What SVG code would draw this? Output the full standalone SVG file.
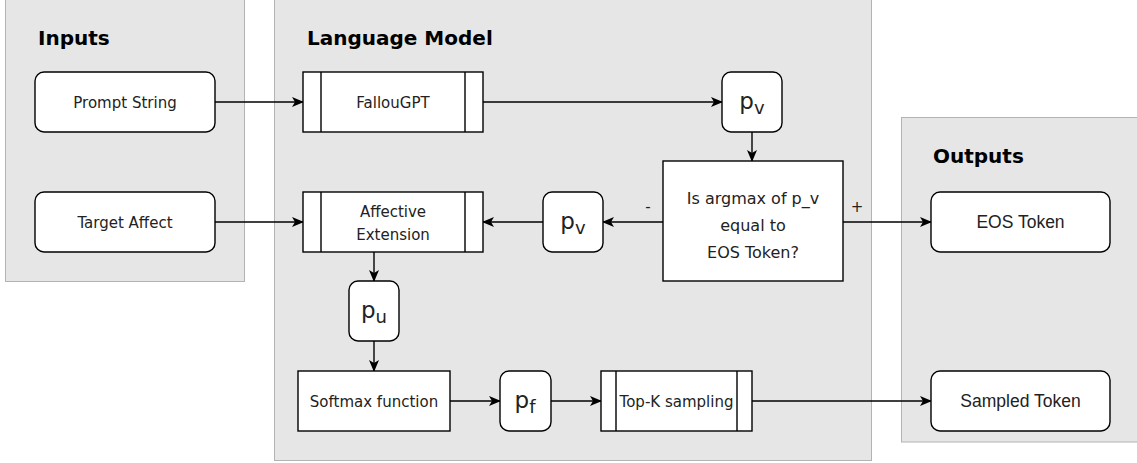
<svg xmlns="http://www.w3.org/2000/svg" width="1137" height="463" viewBox="0 0 1137 463">
<style>
.panel{fill:#e6e6e6;stroke:#b3b3b3;stroke-width:1}
.title{font-family:"DejaVu Sans",sans-serif;font-weight:bold;font-size:20px;fill:#000}
.box{fill:#fff;stroke:#000;stroke-width:1.4}
.t{font-family:"DejaVu Sans",sans-serif;font-size:15px;fill:#222;text-anchor:middle}
.td{font-family:"DejaVu Sans",sans-serif;font-size:16px;fill:#222;text-anchor:middle}
.ta{font-family:"Liberation Sans",Arial,sans-serif;font-size:17.5px;fill:#222;text-anchor:middle}
.p{font-family:"DejaVu Sans",sans-serif;font-size:23px;fill:#222;text-anchor:middle}
.c{fill:none;stroke:#000;stroke-width:1.4}
</style>
<defs>
<marker id="arr" viewBox="0 0 12 10" refX="11" refY="5" markerWidth="12" markerHeight="10" markerUnits="userSpaceOnUse" orient="auto">
<path d="M0,0 L12,5 L0,10 L3,5 z" fill="#000"/>
</marker>
</defs>
<g id="panel-inputs">
<rect class="panel" x="5.5" y="-2" width="239" height="283.5"/>
<text class="title" x="38" y="45">Inputs</text>
</g>
<g id="panel-lm">
<rect class="panel" x="274.5" y="-2" width="597" height="462.5"/>
<text class="title" x="307" y="45">Language Model</text>
</g>
<g id="panel-outputs">
<rect class="panel" x="901.5" y="117.5" width="240" height="324.5"/>
<text class="title" x="933" y="163">Outputs</text>
</g>
<g id="connectors">
<path class="c" d="M215,102 H303" marker-end="url(#arr)"/>
<path class="c" d="M483,102 H722" marker-end="url(#arr)"/>
<path class="c" d="M752,132 V161" marker-end="url(#arr)"/>
<path class="c" d="M215,222 H303" marker-end="url(#arr)"/>
<path class="c" d="M663,222 H603" marker-end="url(#arr)"/>
<path class="c" d="M543,222 H483" marker-end="url(#arr)"/>
<path class="c" d="M843,222 H931" marker-end="url(#arr)"/>
<path class="c" d="M374,252 V281" marker-end="url(#arr)"/>
<path class="c" d="M374,341 V371" marker-end="url(#arr)"/>
<path class="c" d="M450,401 H500" marker-end="url(#arr)"/>
<path class="c" d="M551,401 H601" marker-end="url(#arr)"/>
<path class="c" d="M752,401 H931" marker-end="url(#arr)"/>
<text class="t" x="648" y="212">-</text>
<text class="t" x="857" y="212">+</text>
</g>
<g id="prompt-string">
<rect class="box" x="35" y="72" width="180" height="60" rx="9"/>
<text class="t" x="125" y="108">Prompt String</text>
</g>
<g id="target-affect">
<rect class="box" x="35" y="192" width="180" height="60" rx="9"/>
<text class="t" x="125" y="228">Target Affect</text>
</g>
<g id="fallougpt">
<rect class="box" x="303" y="72" width="180" height="60"/>
<path class="c" d="M321,72 V132 M465,72 V132"/>
<text class="t" x="393" y="108">FallouGPT</text>
</g>
<g id="affective-extension">
<rect class="box" x="303" y="192" width="180" height="60"/>
<path class="c" d="M321,192 V252 M465,192 V252"/>
<text class="t" x="393" y="217">Affective</text>
<text class="t" x="393" y="240">Extension</text>
</g>
<g id="pv-top">
<rect class="box" x="722" y="72" width="60" height="60" rx="9"/>
<text class="p" x="752" y="109">p<tspan font-size="18" dy="5">v</tspan></text>
</g>
<g id="decision">
<rect class="box" x="663" y="161" width="180" height="120"/>
<text class="td" x="753" y="204">Is argmax of p_v</text>
<text class="td" x="753" y="231">equal to</text>
<text class="td" x="753" y="258">EOS Token?</text>
</g>
<g id="pv-mid">
<rect class="box" x="543" y="192" width="60" height="60" rx="9"/>
<text class="p" x="573" y="229">p<tspan font-size="18" dy="5">v</tspan></text>
</g>
<g id="pu">
<rect class="box" x="349" y="281" width="50" height="60" rx="9"/>
<text class="p" x="374" y="318">p<tspan font-size="18" dy="5">u</tspan></text>
</g>
<g id="softmax">
<rect class="box" x="298" y="371" width="152" height="60"/>
<text class="t" x="374" y="407">Softmax function</text>
</g>
<g id="pf">
<rect class="box" x="500" y="371" width="51" height="60" rx="9"/>
<text class="p" x="525" y="408">p<tspan font-size="18" dy="5">f</tspan></text>
</g>
<g id="topk">
<rect class="box" x="601" y="371" width="151" height="60"/>
<path class="c" d="M616,371 V431 M737,371 V431"/>
<text class="t" x="676.5" y="407">Top-K sampling</text>
</g>
<g id="eos-token">
<rect class="box" x="931" y="192" width="179" height="60" rx="9"/>
<text class="ta" x="1020.5" y="228">EOS Token</text>
</g>
<g id="sampled-token">
<rect class="box" x="931" y="371" width="179" height="60" rx="9"/>
<text class="ta" x="1020.5" y="407">Sampled Token</text>
</g>
</svg>
